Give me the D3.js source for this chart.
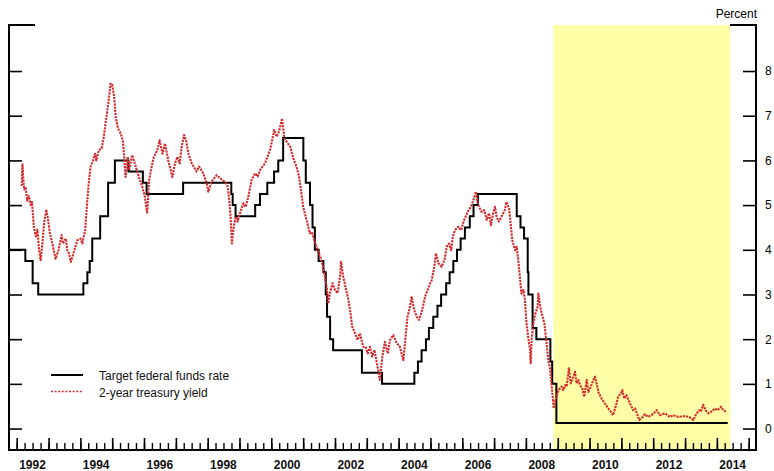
<!DOCTYPE html>
<html>
<head>
<meta charset="utf-8">
<script src="https://cdn.jsdelivr.net/npm/d3@7"></script>
<style>
  html, body { margin: 0; padding: 0; background: #fff; }
  svg { display: block; font-family: "Liberation Sans", Arial, Helvetica, sans-serif; }
</style>
</head>
<body>
<svg id="chart" width="774" height="471"></svg>
<script>
// Target federal funds rate: effective date of each change, and the new level (percent)
const fedDates = ["1991-10-01","1992-04-09","1992-07-02","1992-09-04","1994-02-04","1994-03-22","1994-04-18","1994-05-17","1994-08-16","1994-11-15","1995-02-01","1995-07-06","1995-12-19","1996-01-31","1997-03-25","1998-09-29","1998-10-15","1998-11-17","1999-06-30","1999-08-24","1999-11-16","2000-02-02","2000-03-21","2000-05-16","2001-01-03","2001-01-31","2001-03-20","2001-04-18","2001-05-15","2001-06-27","2001-08-21","2001-09-17","2001-10-02","2001-11-06","2001-12-11","2002-11-06","2003-06-25","2004-06-30","2004-08-10","2004-09-21","2004-11-10","2004-12-14","2005-02-02","2005-03-22","2005-05-03","2005-06-30","2005-08-09","2005-09-20","2005-11-01","2005-12-13","2006-01-31","2006-03-28","2006-05-10","2006-06-29","2007-09-18","2007-10-31","2007-12-11","2008-01-22","2008-01-30","2008-03-18","2008-04-30","2008-10-08","2008-10-29","2008-12-16","2014-05-05"];
const fedRates = [4.00,3.75,3.25,3.00,3.25,3.50,3.75,4.25,4.75,5.50,6.00,5.75,5.50,5.25,5.50,5.25,5.00,4.75,5.00,5.25,5.50,5.75,6.00,6.50,6.00,5.50,5.00,4.50,4.00,3.75,3.50,3.00,2.50,2.00,1.75,1.25,1.00,1.25,1.50,1.75,2.00,2.25,2.50,2.75,3.00,3.25,3.50,3.75,4.00,4.25,4.50,4.75,5.00,5.25,4.75,4.50,4.25,3.50,3.00,2.25,2.00,1.50,1.00,0.125,0.125];

// 2-year Treasury yield: observation time (decimal year) and yield (percent)
const yieldTimes = [
  1992.16,1992.18,1992.21,1992.24,1992.28,1992.33,1992.38,1992.44,1992.48,1992.54,1992.60,1992.65,1992.70,1992.75,1992.80,1992.86,1992.93,1992.98,
  1993.04,1993.12,1993.17,1993.22,1993.31,1993.41,1993.45,1993.54,1993.59,1993.64,1993.70,1993.80,1993.90,
  1994.01,1994.06,1994.15,1994.21,1994.27,1994.32,1994.40,1994.46,1994.50,1994.58,1994.67,1994.74,1994.79,1994.88,1994.95,
  1995.00,1995.06,1995.11,1995.18,1995.27,1995.34,1995.38,1995.42,1995.49,1995.53,1995.63,1995.74,1995.84,1995.95,
  1996.03,1996.10,1996.16,1996.24,1996.31,1996.42,1996.49,1996.58,1996.66,1996.76,1996.84,1996.89,1996.97,
  1997.05,1997.12,1997.18,1997.26,1997.33,1997.39,1997.50,1997.65,1997.73,1997.86,1997.97,
  1998.02,1998.12,1998.28,1998.39,1998.54,1998.63,1998.68,1998.72,1998.76,1998.82,1998.88,1998.94,
  1999.01,1999.12,1999.19,1999.28,1999.38,1999.49,1999.57,1999.67,1999.80,1999.88,1999.96,
  2000.03,2000.09,2000.17,2000.24,2000.34,2000.41,2000.48,2000.59,2000.69,2000.79,2000.87,2000.93,
  2001.00,2001.08,2001.16,2001.21,2001.27,2001.35,2001.42,2001.53,2001.63,2001.74,2001.79,2001.84,2001.92,
  2002.00,2002.08,2002.16,2002.19,2002.26,2002.33,2002.42,2002.49,2002.54,2002.63,2002.71,2002.78,2002.89,2002.96,
  2003.03,2003.10,2003.17,2003.24,2003.34,2003.41,2003.49,2003.57,2003.66,2003.73,2003.83,2003.94,
  2004.04,2004.15,2004.20,2004.28,2004.36,2004.41,2004.49,2004.57,2004.64,2004.74,2004.83,2004.91,2004.99,
  2005.04,2005.12,2005.17,2005.25,2005.35,2005.44,2005.51,2005.58,2005.65,2005.70,2005.77,2005.88,2005.96,
  2006.06,2006.17,2006.27,2006.35,2006.43,2006.50,2006.61,2006.69,2006.77,2006.84,2006.90,2006.97,
  2007.03,2007.08,2007.15,2007.26,2007.34,2007.39,2007.47,2007.52,2007.57,2007.66,2007.71,2007.76,2007.81,2007.86,2007.92,2007.97,
  2008.02,2008.07,2008.13,2008.15,2008.18,2008.23,2008.30,2008.37,2008.39,2008.47,2008.58,2008.65,2008.70,2008.75,2008.80,2008.84,2008.87,2008.91,2008.96,
  2009.02,2009.12,2009.17,2009.23,2009.28,2009.35,2009.41,2009.49,2009.54,2009.59,2009.645,2009.70,2009.77,2009.83,2009.91,2009.96,
  2010.04,2010.12,2010.17,2010.22,2010.29,2010.38,2010.48,2010.59,2010.74,2010.82,2010.90,2010.985,
  2011.03,2011.09,2011.16,2011.27,2011.37,2011.43,2011.51,2011.56,2011.635,2011.74,2011.84,2011.95,
  2012.11,2012.21,2012.37,2012.52,2012.63,2012.79,
  2013.00,2013.15,2013.26,2013.36,2013.44,2013.50,2013.57,2013.645,2013.73,2013.83,2013.94,
  2014.02,2014.13,2014.20,2014.28
];
const yieldValues = [
  5.43,5.93,5.55,5.35,5.40,5.10,5.20,5.00,5.07,4.50,4.30,4.45,4.00,3.77,4.10,4.60,4.90,4.70,
  4.37,4.14,3.96,3.80,3.99,4.33,4.14,4.25,3.99,3.92,3.73,3.96,4.21,
  4.25,4.14,4.44,5.04,5.56,5.86,6.00,6.15,6.00,6.23,6.27,6.53,6.83,7.28,7.72,
  7.70,7.43,6.98,6.72,6.60,6.42,6.05,5.63,6.08,5.78,6.12,5.86,5.63,5.40,
  5.18,4.81,5.56,5.86,6.08,6.23,6.45,6.15,6.38,6.00,5.78,5.63,5.93,
  6.08,5.93,6.30,6.57,6.42,6.16,5.93,5.75,5.86,5.71,5.49,
  5.30,5.52,5.67,5.60,5.52,5.41,5.11,4.74,4.14,4.52,4.74,4.63,
  4.81,5.04,4.96,5.19,5.56,5.71,5.64,5.82,5.93,6.08,6.23,
  6.46,6.68,6.53,6.64,6.94,6.49,6.42,6.31,6.05,5.86,5.64,5.34,
  4.96,4.74,4.52,4.37,4.40,4.22,4.07,3.85,3.62,3.17,2.80,3.03,3.25,
  3.10,3.03,3.40,3.73,3.40,3.17,2.88,2.58,2.28,2.13,1.98,2.13,1.83,1.83,
  1.68,1.83,1.61,1.76,1.38,1.09,1.61,1.94,1.68,1.98,2.09,1.91,
  1.83,1.53,1.91,2.50,2.73,2.95,2.65,2.50,2.43,2.65,2.95,3.10,3.25,
  3.32,3.62,3.92,3.70,3.62,3.77,4.07,4.14,3.99,4.29,4.44,4.52,4.44,
  4.67,4.85,4.96,5.11,5.30,5.00,4.85,4.89,4.67,4.82,4.55,4.82,
  4.96,4.74,4.63,4.78,4.89,5.07,4.93,4.59,4.22,3.99,4.07,3.77,3.40,3.02,3.10,2.88,
  2.35,2.06,1.76,1.46,1.98,2.35,2.58,2.73,3.02,2.65,2.35,1.91,1.53,1.38,1.01,0.71,0.45,0.60,0.71,
  0.86,0.94,0.86,0.97,0.94,1.35,1.01,1.16,1.27,1.01,1.09,0.97,0.90,0.71,1.09,0.82,
  0.94,1.09,1.16,1.01,0.79,0.67,0.56,0.45,0.30,0.49,0.71,0.79,
  0.86,0.67,0.75,0.56,0.41,0.45,0.30,0.19,0.23,0.32,0.26,0.30,
  0.41,0.30,0.34,0.26,0.30,0.26,
  0.28,0.25,0.19,0.34,0.41,0.38,0.53,0.41,0.34,0.38,0.45,
  0.41,0.49,0.41,0.38
];

// Shaded period and axis labels
const shadeStart = "2008-11-12";
const shadeEnd = "2014-06-05";
const yTicks = [0, 1, 2, 3, 4, 5, 6, 7, 8];
const yearLabels = [1992, 1994, 1996, 1998, 2000, 2002, 2004, 2006, 2008, 2010, 2012, 2014];
const legendLabels = ["Target federal funds rate", "2-year treasury yield"];

const parse = d3.timeParse("%Y-%m-%d");
function fromDecimalYear(t) {
  const yr = Math.floor(t);
  const a = new Date(yr, 0, 1), b = new Date(yr + 1, 0, 1);
  return new Date(+a + (t - yr) * (b - a));
}

const plotLeft = 9, plotRight = 756, plotTop = 25, plotBottom = 450;
const red = "#d42a2c";

const x = d3.scaleTime()
  .domain([fromDecimalYear(1991.758), fromDecimalYear(2015.23)])
  .range([plotLeft, plotRight]);
const y = d3.scaleLinear().domain([-0.48, 9.03]).range([plotBottom, plotTop]);

const svg = d3.select("#chart");

// shaded band
svg.append("rect")
  .attr("x", x(parse(shadeStart)))
  .attr("y", plotTop)
  .attr("width", x(parse(shadeEnd)) - x(parse(shadeStart)))
  .attr("height", plotBottom - plotTop)
  .attr("fill", "#ffffa8");

// left and right value axes (ticks only on the left, labels on the right)
const leftAxis = d3.axisRight(y).tickValues(yTicks).tickSize(13).tickFormat("");
svg.append("g").attr("transform", `translate(${plotLeft},0)`).call(leftAxis)
  .call(g => g.select(".domain").remove())
  .call(g => g.selectAll("line").attr("stroke", "#000").attr("stroke-width", 1.6));

const rightAxis = d3.axisLeft(y).tickValues(yTicks).tickSize(13).tickFormat(d3.format("d"));
svg.append("g").attr("transform", `translate(${plotRight},0)`).call(rightAxis)
  .call(g => g.select(".domain").remove())
  .call(g => g.selectAll("line").attr("stroke", "#000").attr("stroke-width", 1.6))
  .call(g => g.selectAll("text")
    .attr("x", 9).attr("text-anchor", "start")
    .attr("font-size", 12).attr("font-family", "Liberation Sans, Arial, sans-serif")
    .attr("fill", "#000"));

// frame lines: verticals, top stubs, baseline
const frame = svg.append("g").attr("stroke", "#000").attr("stroke-width", 2).attr("fill", "none");
frame.append("line").attr("x1", plotLeft).attr("x2", plotLeft).attr("y1", plotTop - 1).attr("y2", plotBottom + 1);
frame.append("line").attr("x1", plotRight).attr("x2", plotRight).attr("y1", plotTop - 1).attr("y2", plotBottom + 1);
frame.append("line").attr("x1", plotLeft).attr("x2", plotLeft + 26).attr("y1", plotTop).attr("y2", plotTop);
frame.append("line").attr("x1", plotRight - 26).attr("x2", plotRight).attr("y1", plotTop).attr("y2", plotTop);
frame.append("line").attr("x1", plotLeft).attr("x2", plotRight + 1).attr("y1", plotBottom).attr("y2", plotBottom);

// time axis: quarterly minor ticks, yearly major ticks
const quarterAxis = d3.axisTop(x).ticks(d3.timeMonth.every(3)).tickSize(7).tickFormat("");
svg.append("g").attr("transform", `translate(0,${plotBottom})`).call(quarterAxis)
  .call(g => g.select(".domain").remove())
  .call(g => g.selectAll("line").attr("stroke", "#000").attr("stroke-width", 1.4));
const yearAxis = d3.axisTop(x).ticks(d3.timeYear.every(1)).tickSize(12).tickFormat("");
svg.append("g").attr("transform", `translate(0,${plotBottom})`).call(yearAxis)
  .call(g => g.select(".domain").remove())
  .call(g => g.selectAll("line").attr("stroke", "#000").attr("stroke-width", 1.6));

// year labels centred on mid-year
svg.append("g").selectAll("text").data(yearLabels).join("text")
  .attr("x", d => x(new Date(d, 6, 1)))
  .attr("y", 469)
  .attr("text-anchor", "middle")
  .attr("font-size", 12)
  .attr("font-weight", "bold")
  .attr("fill", "#111")
  .text(d => d);

// unit label
svg.append("text").attr("x", 757).attr("y", 18).attr("text-anchor", "end")
  .attr("font-size", 12).attr("fill", "#000").text("Percent");

// series
const fedData = fedDates.map((d, i) => ({ date: parse(d), value: fedRates[i] }));
const yieldData = yieldTimes.map((t, i) => ({ date: fromDecimalYear(t), value: yieldValues[i] }));

svg.append("path").datum(fedData)
  .attr("fill", "none").attr("stroke", "#000").attr("stroke-width", 2)
  .attr("d", d3.line().x(d => x(d.date)).y(d => y(d.value)).curve(d3.curveStepAfter));

svg.append("path").datum(yieldData)
  .attr("fill", "none").attr("stroke", red).attr("stroke-width", 2.1)
  .attr("stroke-dasharray", "2.2,1")
  .attr("stroke-linejoin", "round")
  .attr("d", d3.line().x(d => x(d.date)).y(d => y(d.value)));

// legend
const legend = svg.append("g");
legend.append("line").attr("x1", 51).attr("x2", 83).attr("y1", 375).attr("y2", 375)
  .attr("stroke", "#000").attr("stroke-width", 2);
legend.append("line").attr("x1", 51).attr("x2", 83).attr("y1", 391.5).attr("y2", 391.5)
  .attr("stroke", red).attr("stroke-width", 1.5).attr("stroke-dasharray", "2,1.6");
legend.selectAll("text").data(legendLabels).join("text")
  .attr("x", 99).attr("y", (d, i) => 380 + i * 16.5)
  .attr("font-size", 12).attr("fill", "#111")
  .text(d => d);
</script>
</body>
</html>
